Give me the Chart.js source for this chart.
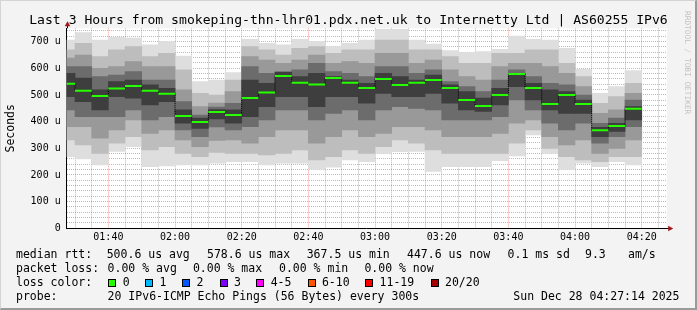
<!DOCTYPE html>
<html>
<head>
<meta charset="utf-8">
<script src="https://cdn.jsdelivr.net/npm/chart.js"></script>
<style>
  html, body { margin: 0; padding: 0; background: #f3f3f3; }
  #wrap {
    position: relative; width: 697px; height: 310px; overflow: hidden;
    background: #f3f3f3; font-family: 'DejaVu Sans Mono', monospace; color: #000;
  }
  #frame {
    position: absolute; left: 0; top: 0; width: 697px; height: 310px; box-sizing: border-box;
    border-left: 1px solid #d4d4d4; border-top: 1px solid #d4d4d4;
    border-right: 2px solid #9a9a9a; border-bottom: 2px solid #9a9a9a; pointer-events: none;
  }
  canvas { position: absolute; left: 0; top: 0; }
  .t { position: absolute; white-space: pre; font-size: 11.5px; line-height: 14px; }
  .box { position: absolute; top: 278.5px; width: 6px; height: 6px; border: 1px solid #000; }
  #title {
    position: absolute; left: 0; top: 12px; width: 697px; text-align: center;
    font-size: 13.1px; line-height: 16px; white-space: pre;
  }
  #credit {
    position: absolute; left: 683px; top: 11px; writing-mode: vertical-rl;
    font-size: 7.8px; color: #c2c2c2; white-space: pre;
  }
</style>
</head>
<body>
<div id="wrap">
  <canvas id="smoke" width="697" height="310"></canvas>
  <div id="title">Last 3 Hours from smokeping-thn-lhr01.pdx.net.uk to Internetty Ltd | AS60255 IPv6</div>
  <div id="credit">RRDTOOL / TOBI OETIKER</div>

  <span class="t" style="left:16px;top:247.3px">median rtt:</span>
  <span class="t" style="left:106.7px;top:247.3px">500.6 us avg</span>
  <span class="t" style="left:207px;top:247.3px">578.6 us max</span>
  <span class="t" style="left:306.7px;top:247.3px">367.5 us min</span>
  <span class="t" style="left:407px;top:247.3px">447.6 us now</span>
  <span class="t" style="left:507.6px;top:247.3px">0.1 ms sd</span>
  <span class="t" style="left:585px;top:247.3px">9.3</span>
  <span class="t" style="left:628px;top:247.3px">am/s</span>

  <span class="t" style="left:16px;top:261.3px">packet loss:</span>
  <span class="t" style="left:107.6px;top:261.3px">0.00 % avg</span>
  <span class="t" style="left:192.9px;top:261.3px">0.00 % max</span>
  <span class="t" style="left:279px;top:261.3px">0.00 % min</span>
  <span class="t" style="left:364.4px;top:261.3px">0.00 % now</span>

  <span class="t" style="left:16px;top:275.3px">loss color:</span>
  <div id="lossKey"></div>

  <span class="t" style="left:16px;top:289px">probe:</span>
  <span class="t" style="left:107.6px;top:289px">20 IPv6-ICMP Echo Pings (56 Bytes) every 300s</span>
  <span class="t" style="left:513.3px;top:289px">Sun Dec 28 04:27:14 2025</span>
  <div id="frame"></div>
</div>
<script>
// end time of each 5 minute step
const times = ['01:30', '01:35', '01:40', '01:45', '01:50', '01:55', '02:00', '02:05', '02:10', '02:15',
    '02:20', '02:25', '02:30', '02:35', '02:40', '02:45', '02:50', '02:55', '03:00', '03:05',
    '03:10', '03:15', '03:20', '03:25', '03:30', '03:35', '03:40', '03:45', '03:50', '03:55',
    '04:00', '04:05', '04:10', '04:15', '04:20'];

// median rtt, microseconds
const medianRtt = [542, 516, 496, 524, 534, 516, 505, 421, 399, 436,
    425, 489, 509, 571, 546, 539, 564, 546, 526, 560,
    537, 546, 556, 526, 481, 459, 500, 579, 526, 466,
    500, 466, 368, 384, 448];

// smoke bands, outermost first, [low, high] in microseconds
const smoke1 = [[269, 706], [260, 734], [238, 706], [288, 716], [306, 713], [231, 688], [234, 700], [238, 646], [238, 550], [244, 556],
    [250, 584], [250, 709], [238, 694], [244, 688], [244, 709], [221, 700], [229, 681], [256, 694], [250, 706], [281, 746],
    [287, 746], [288, 706], [213, 691], [231, 666], [231, 659], [231, 663], [254, 671], [271, 721], [350, 709], [281, 706],
    [221, 675], [244, 596], [231, 506], [250, 531], [238, 591]];
const smoke2 = [[331, 669], [313, 694], [281, 644], [319, 669], [344, 681], [294, 644], [306, 656], [281, 594], [269, 506], [285, 500],
    [281, 556], [281, 681], [275, 669], [281, 650], [294, 675], [256, 681], [269, 656], [294, 669], [281, 669], [306, 706],
    [331, 706], [319, 669], [294, 669], [281, 644], [281, 619], [281, 619], [281, 656], [319, 656], [369, 669], [300, 669],
    [269, 619], [256, 569], [250, 469], [269, 494], [269, 544]];
const smoke3 = [[381, 638], [381, 650], [338, 600], [369, 606], [406, 625], [356, 606], [369, 606], [331, 519], [306, 456], [330, 470],
    [331, 513], [319, 644], [344, 631], [369, 619], [369, 631], [319, 650], [344, 619], [369, 625], [344, 619], [356, 656],
    [381, 656], [381, 619], [369, 631], [344, 594], [344, 569], [344, 556], [356, 606], [394, 619], [406, 619], [344, 606],
    [313, 581], [331, 531], [281, 431], [300, 444], [331, 506]];
const smoke4 = [[444, 606], [419, 606], [419, 569], [419, 575], [444, 588], [406, 556], [419, 556], [369, 475], [344, 425], [380, 455],
    [369, 469], [381, 606], [406, 581], [444, 588], [444, 594], [406, 619], [431, 588], [444, 581], [406, 569], [444, 606],
    [456, 606], [450, 581], [444, 594], [406, 550], [406, 531], [406, 513], [419, 556], [481, 594], [444, 569], [394, 544],
    [369, 538], [394, 500], [319, 394], [344, 413], [381, 481]];
const smoke5 = [[494, 581], [475, 563], [444, 519], [494, 550], [488, 556], [463, 538], [475, 525], [394, 444], [375, 413], [410, 445],
    [394, 444], [419, 556], [456, 544], [494, 585], [494, 569], [456, 581], [494, 569], [494, 556], [469, 544], [506, 581],
    [494, 569], [494, 556], [506, 575], [469, 538], [444, 513], [438, 488], [463, 525], [531, 581], [481, 544], [444, 519],
    [431, 513], [431, 481], [344, 379], [363, 394], [406, 456]];

const xTickLabels = ['01:40', '02:00', '02:20', '02:40', '03:00', '03:20', '03:40', '04:00', '04:20'];
const yTickValues = [0, 100, 200, 300, 400, 500, 600, 700];
const yTickLabels = ['0', '100 u', '200 u', '300 u', '400 u', '500 u', '600 u', '700 u'];

const lossLabels = ['0', '1', '2', '3', '4-5', '6-10', '11-19', '20/20'];
const lossColors = ['#26ff00', '#00b8ff', '#0059ff', '#7e00ff', '#ff00ff', '#ff5500', '#ff0000', '#a10000'];

const toMin = s => Number(s.slice(0, 2)) * 60 + Number(s.slice(3));
const xTickValues = xTickLabels.map(toMin);

// loss colour key
const boxX = [108.4, 145.3, 182.2, 219.6, 256.4, 307.6, 365.3, 430.7];
const lossKey = document.getElementById('lossKey');
lossLabels.forEach((lbl, i) => {
    const b = document.createElement('div');
    b.className = 'box';
    b.style.left = boxX[i] + 'px';
    b.style.background = lossColors[i];
    lossKey.appendChild(b);
    const t = document.createElement('span');
    t.className = 't';
    t.style.left = (boxX[i] + 14.3) + 'px';
    t.style.top = '275.3px';
    t.textContent = lbl;
    lossKey.appendChild(t);
});

Chart.defaults.font.family = "'DejaVu Sans Mono', monospace";
Chart.defaults.color = '#000';

const minorGrid = 'rgba(120, 120, 120, 0.5)';
const majorGrid = 'rgba(255, 40, 40, 0.45)';
const shades = ['#dedede', '#bdbdbd', '#999999', '#6c6c6c', '#3e3e3e'];
const bands = [smoke1, smoke2, smoke3, smoke4, smoke5];

const barSets = bands.map((band, k) => ({
    type: 'bar',
    data: band.map((r, i) => ({ x: toMin(times[i]) - 2.5, y: r })),
    backgroundColor: shades[k],
    borderWidth: 0,
    grouped: false,
    barPercentage: 1,
    categoryPercentage: 1,
    order: 10 - k,
    clip: 0
}));

const medianPoints = medianRtt.map((v, i) => ({ x: toMin(times[i]) - 2.5, y: v }));

const halfStep = (ctx) => {
    const s = ctx.chart.scales.x;
    return (s.getPixelForValue(5) - s.getPixelForValue(0)) / 2;
};

const xGrid = [];
for (let m = 90; m <= 265; m += 5) xGrid.push(m);
const yGrid = [];
for (let v = 0; v <= 740; v += 20) yGrid.push(v);

const plotBackground = {
    id: 'plotBackground',
    beforeDraw(chart) {
        const { ctx, chartArea: a } = chart;
        ctx.save();
        ctx.fillStyle = '#ffffff';
        ctx.fillRect(a.left, a.top, a.right - a.left, a.bottom - a.top);
        ctx.restore();
    }
};

const axisArrows = {
    id: 'axisArrows',
    afterDraw(chart) {
        const { ctx, chartArea: a } = chart;
        const x0 = Math.round(a.left) + 0.5;
        const y0 = Math.round(a.bottom) + 0.5;
        ctx.save();
        ctx.strokeStyle = '#000';
        ctx.lineWidth = 1;
        ctx.beginPath();
        ctx.moveTo(x0, a.top);
        ctx.lineTo(x0, a.top - 4);
        ctx.moveTo(a.right, y0);
        ctx.lineTo(a.right + 3, y0);
        ctx.stroke();
        ctx.fillStyle = '#a01818';
        ctx.beginPath();
        ctx.moveTo(x0, a.top - 7);
        ctx.lineTo(x0 - 2.8, a.top - 2);
        ctx.lineTo(x0 + 2.8, a.top - 2);
        ctx.closePath();
        ctx.fill();
        ctx.beginPath();
        ctx.moveTo(a.right + 6.5, y0);
        ctx.lineTo(a.right + 1.5, y0 - 2.8);
        ctx.lineTo(a.right + 1.5, y0 + 2.8);
        ctx.closePath();
        ctx.fill();
        ctx.restore();
    }
};

new Chart(document.getElementById('smoke'), {
    type: 'bar',
    data: {
        datasets: [
            {
                type: 'line',
                data: medianPoints,
                showLine: false,
                pointStyle: 'line',
                pointRadius: halfStep,
                pointBorderColor: '#26ff00',
                pointBorderWidth: 2,
                order: 0,
                clip: 0
            },
            {
                type: 'line',
                data: medianPoints,
                stepped: 'middle',
                borderColor: '#000',
                borderWidth: 1,
                borderDash: [1, 1],
                pointRadius: 0,
                order: 1,
                clip: 0
            },
            ...barSets
        ]
    },
    options: {
        responsive: false,
        animation: false,
        events: [],
        layout: { padding: { left: 0, top: 28.3, right: 30.3, bottom: 0 } },
        plugins: { legend: { display: false }, tooltip: { enabled: false } },
        scales: {
            x: {
                type: 'linear',
                min: 87.5,
                max: 267.5,
                offset: false,
                z: 1,
                afterBuildTicks: s => { s.ticks = xGrid.map(v => ({ value: v })); },
                afterFit: s => { s.height = 310 - 228.3; },
                grid: {
                    offset: false,
                    drawTicks: false,
                    lineWidth: 1,
                    color: c => (c.tick && c.tick.value % 20 === 0) ? majorGrid : minorGrid
                },
                border: { display: true, color: '#000', width: 1, dash: [1, 1] },
                ticks: {
                    autoSkip: false,
                    maxRotation: 0,
                    padding: 3,
                    font: { size: 10 },
                    callback: v => {
                        const i = xTickValues.indexOf(v);
                        return i >= 0 ? xTickLabels[i] : '';
                    }
                }
            },
            y: {
                min: 0,
                max: 750,
                z: 1,
                afterBuildTicks: s => { s.ticks = yGrid.map(v => ({ value: v })); },
                afterFit: s => { s.width = 66.7; },
                grid: {
                    drawTicks: false,
                    lineWidth: 1,
                    color: c => (c.tick && c.tick.value % 100 === 0) ? majorGrid : minorGrid
                },
                border: { display: true, color: '#000', width: 1, dash: [1, 1] },
                title: {
                    display: true,
                    text: 'Seconds',
                    font: { size: 11.5 },
                    padding: { top: 4, bottom: 0 }
                },
                ticks: {
                    autoSkip: false,
                    padding: 6,
                    font: { size: 10 },
                    callback: v => {
                        const i = yTickValues.indexOf(v);
                        return i >= 0 ? yTickLabels[i] : '';
                    }
                }
            }
        }
    },
    plugins: [plotBackground, axisArrows]
});
</script>
</body>
</html>
